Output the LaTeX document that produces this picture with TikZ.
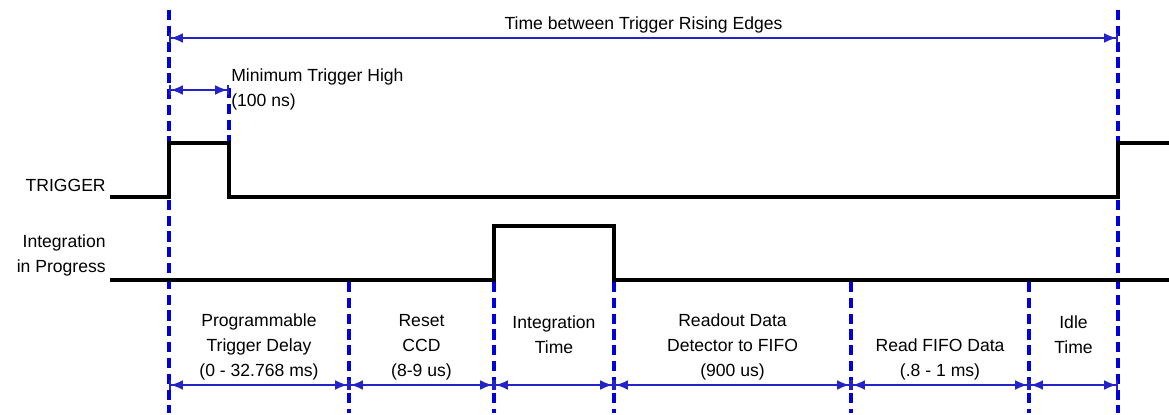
\documentclass[tikz,border=0pt]{standalone}
\usepackage{fontspec}
\setmainfont{Liberation Sans}
\usetikzlibrary{arrows.meta,calc}
\definecolor{markblue}{RGB}{0,0,220}   % dashed time marks
\definecolor{spanblue}{RGB}{35,35,200} % dimension arrows
\tikzset{
  signal/.style={line width=1.9pt,black},
  tmark/.style={markblue,line width=2.1pt,dash pattern=on 5.8pt off 3.2pt},
  span/.style={spanblue,line width=0.9pt,
    {Bar[width=6pt]Latex[length=7pt,width=5.5pt]}-{Latex[length=7pt,width=5.5pt]Bar[width=6pt]}},
  lbl/.style={align=center,font=\fontsize{10pt}{14.2pt}\selectfont,inner sep=0pt}
}

\begin{document}
\begin{tikzpicture}[x=0.02cm,y=-0.02cm]
  \useasboundingbox (0,0) rectangle (1169,415);
  % time marks
  \foreach \n/\x in {0/169,1/229,2/349,3/494,4/614,5/851,6/1029,7/1118}{
    \coordinate (t\n) at (\x,0);
    \coordinate (m\n) at (\x,385);
  }
  \coordinate (top0) at (169,38);  \coordinate (top7) at (1118,38);
  \coordinate (min0) at (169,90);  \coordinate (min1) at (229,90);

  % dashed lines
  \draw[tmark] (169,10) -- (169,413);
  \draw[tmark] (1118,10) -- (1118,413);
  \draw[tmark] (229,88) -- (229,197);
  \foreach \x in {349,494,614,851,1029}
    \draw[tmark] (\x,282) -- (\x,413);

  % signals
  \draw[signal] (110,197) -- (169,197) -- (169,143) -- (229,143) -- (229,197)
    -- (1118,197) -- (1118,143) -- (1169,143);
  \draw[signal] (110,280) -- (494,280) -- (494,226) -- (614,226) -- (614,280)
    -- (1169,280);
  \node[lbl,anchor=east] (trig) at (106,185) {TRIGGER};
  \node[lbl,anchor=east,align=right] (prog) at (106,255) {Integration\\in Progress};

  % period and minimum high
  \draw[span] (top0) -- (top7);
  \node[lbl] (period) at ($(top0)!0.5!(top7)+(0,-13)$) {Time between Trigger Rising Edges};
  \draw[span] (min0) -- (min1);
  \node[lbl,anchor=west,align=left] (minhigh) at (231,89.5) {Minimum Trigger High\\(100 ns)};

  % phases
  \foreach \a/\b in {0/2,2/3,3/4,4/5,5/6,6/7}
    \draw[span] (m\a) -- (m\b);
  \node[lbl] (delay) at ($(m0)!0.5!(m2)+(0,-38)$) {Programmable\\Trigger Delay\\(0 - 32.768 ms)};
  \node[lbl] (reset) at ($(m2)!0.5!(m3)+(0,-38)$) {Reset\\CCD\\(8-9 us)};
  \node[lbl] (integ) at ($(m3)!0.5!(m4)+(0,-50.5)$) {Integration\\Time};
  \node[lbl] (readout) at ($(m4)!0.5!(m5)+(0,-38)$) {Readout Data\\Detector to FIFO\\(900 us)};
  \node[lbl] (fifo) at ($(m5)!0.5!(m6)+(0,-25.5)$) {Read FIFO Data\\(.8 - 1 ms)};
  \node[lbl] (idle) at ($(m6)!0.5!(m7)+(0,-50.5)$) {Idle\\Time};
\end{tikzpicture}
\end{document}
